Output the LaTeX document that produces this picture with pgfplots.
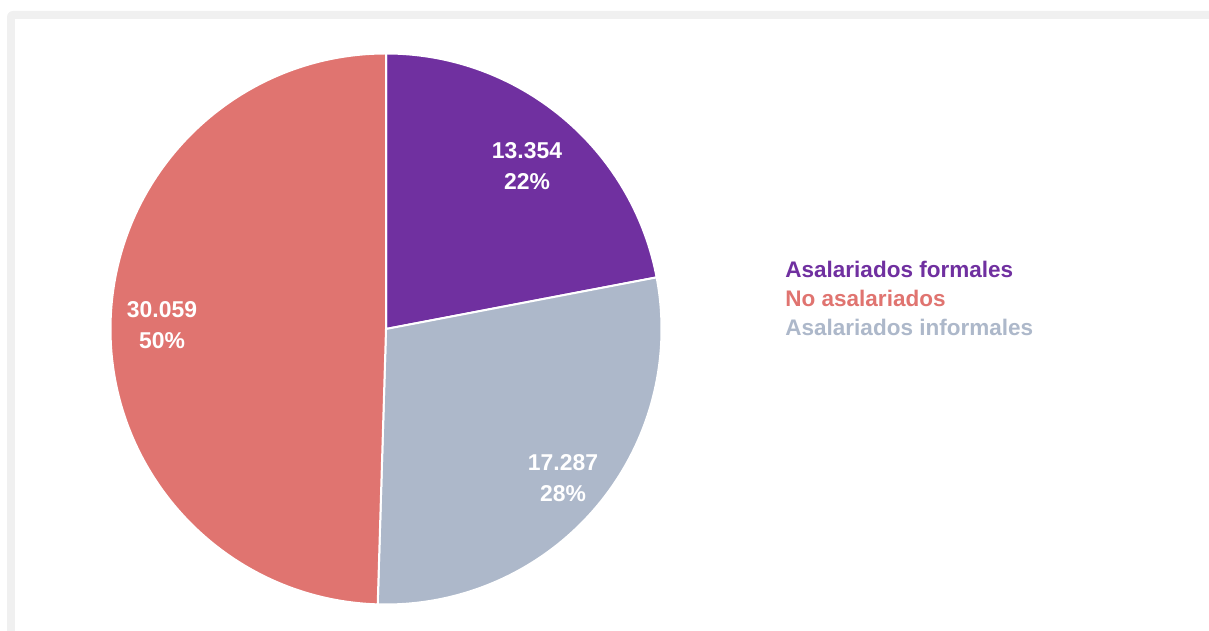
\documentclass[border=0pt]{standalone}
\usepackage{pgfplots}
\usepackage{pgfplotstable}
\pgfplotsset{compat=1.18}
\usepackage{fontspec}
\setmainfont{Liberation Sans}
\definecolor{cForm}{HTML}{7030A0}
\definecolor{cNo}{HTML}{E07470}
\definecolor{cInf}{HTML}{ADB8CA}
\definecolor{cFrame}{HTML}{F0F0F0}

% slices in clockwise order starting at 12 o'clock
\pgfplotstableread{
label value
formales 13354
informales 17287
no 30059
}\piedata
\pgfplotstablegetelem{0}{value}\of\piedata \let\vA\pgfplotsretval
\pgfplotstablegetelem{1}{value}\of\piedata \let\vB\pgfplotsretval
\pgfplotstablegetelem{2}{value}\of\piedata \let\vC\pgfplotsretval
\edef\tot{\fpeval{\vA+\vB+\vC}}
\edef\sA{90}
\edef\eA{\fpeval{round(90-360*\vA/\tot,3)}}
\edef\eB{\fpeval{round(\eA-360*\vB/\tot,3)}}
\edef\eC{\fpeval{round(\eB-360*\vC/\tot,3)}}
\edef\pA{\fpeval{round(100*\vA/\tot)}}
\edef\pB{\fpeval{round(100*\vB/\tot)}}
\edef\pC{\fpeval{round(100*\vC/\tot)}}
\def\R{137.75bp}

\begin{document}
\begin{tikzpicture}
\begin{axis}[
  width=604.5bp, height=315.5bp, scale only axis,
  xmin=0, xmax=1209, ymin=0, ymax=631,
  hide axis, clip=false,
]
\path (axis cs:0,0) rectangle (axis cs:1209,631);
% card frame
\fill[cFrame] (axis cs:7,0) [rounded corners=3bp] -- (axis cs:7,620) [sharp corners] -- (axis cs:1209,620) -- (axis cs:1209,0) -- cycle;
\fill[white] (axis cs:15,0) rectangle (axis cs:1209,612);
% pie
\addplot[draw=none] coordinates {(386,302)};
\filldraw[cForm, draw=white, line width=1bp] (axis cs:386,302) -- ++(\sA:\R) arc[start angle=\sA, end angle=\eA, radius=\R] -- cycle;
\filldraw[cInf, draw=white, line width=1bp] (axis cs:386,302) -- ++(\eA:\R) arc[start angle=\eA, end angle=\eB, radius=\R] -- cycle;
\filldraw[cNo, draw=white, line width=1bp] (axis cs:386,302) -- ++(\eB:\R) arc[start angle=\eB, end angle=\eC, radius=\R] -- cycle;
% slice labels
\node[white, font=\fontsize{11.5}{15.5}\selectfont\bfseries, align=center] at (axis cs:527,465) {13.354\\\pA\%};
\node[white, font=\fontsize{11.5}{15.5}\selectfont\bfseries, align=center] at (axis cs:563,153) {17.287\\\pB\%};
\node[white, font=\fontsize{11.5}{15.5}\selectfont\bfseries, align=center] at (axis cs:162,306) {30.059\\\pC\%};
% legend
\node[cForm, anchor=west, font=\fontsize{11.3}{12}\selectfont\bfseries, inner sep=0pt] at (axis cs:785,362) {Asalariados formales};
\node[cNo, anchor=west, font=\fontsize{11.3}{12}\selectfont\bfseries, inner sep=0pt] at (axis cs:785,333) {No asalariados};
\node[cInf, anchor=west, font=\fontsize{11.3}{12}\selectfont\bfseries, inner sep=0pt] at (axis cs:785,304) {Asalariados informales};
\end{axis}
\end{tikzpicture}
\end{document}
